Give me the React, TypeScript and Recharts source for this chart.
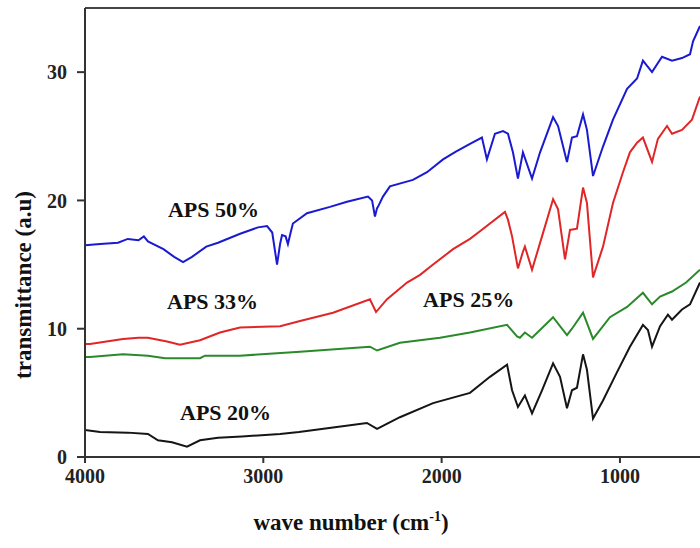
import { LineChart, Line, XAxis, YAxis, ReferenceLine, ReferenceDot } from 'recharts';

const FONT = '"Liberation Serif", "Times New Roman", serif';

// [wave number (cm-1), transmittance (a.u)]
const aps50 = [
  [4000, 16.5], [3915, 16.6], [3815, 16.7], [3760, 17.0], [3700, 16.9], [3670, 17.2],
  [3647, 16.8], [3560, 16.2], [3500, 15.6], [3450, 15.2], [3400, 15.6], [3320, 16.4],
  [3254, 16.7], [3130, 17.4], [3030, 17.9], [2979, 18.0], [2950, 17.5], [2923, 15.0],
  [2906, 16.6], [2895, 17.3], [2875, 17.2], [2862, 16.6], [2845, 17.6], [2834, 18.2],
  [2755, 19.0], [2626, 19.5], [2531, 19.9], [2413, 20.3], [2390, 20.0], [2374, 18.75],
  [2362, 19.4], [2357, 19.5], [2329, 20.3], [2290, 21.1], [2161, 21.6], [2082, 22.2],
  [1992, 23.2], [1920, 23.8], [1841, 24.4], [1774, 24.9], [1746, 23.2], [1701, 25.2],
  [1656, 25.4], [1628, 25.2], [1600, 23.75], [1572, 21.7], [1544, 23.75], [1493, 21.7],
  [1448, 23.75], [1375, 26.5], [1347, 25.8], [1297, 23.0], [1269, 24.9], [1241, 25.0],
  [1207, 26.7], [1185, 25.5], [1151, 21.9], [1095, 24.2], [1039, 26.3], [960, 28.7],
  [904, 29.5], [871, 30.9], [820, 30.0], [764, 31.2], [708, 30.9], [652, 31.1],
  [607, 31.4], [590, 32.4], [551, 33.6],
];

const aps33 = [
  [4000, 8.8], [3972, 8.8], [3787, 9.2], [3700, 9.3], [3647, 9.3], [3540, 9.0],
  [3467, 8.75], [3355, 9.1], [3243, 9.7], [3131, 10.1], [2906, 10.2], [2794, 10.6],
  [2609, 11.25], [2402, 12.3], [2368, 11.3], [2306, 12.3], [2194, 13.6], [2121, 14.2],
  [2048, 15.0], [1936, 16.2], [1841, 17.0], [1785, 17.6], [1645, 19.1], [1628, 18.5],
  [1605, 17.2], [1572, 14.7], [1544, 16.0], [1533, 16.4], [1493, 14.6], [1437, 17.2],
  [1375, 20.1], [1347, 19.3], [1308, 15.4], [1280, 17.7], [1241, 17.8], [1207, 21.0],
  [1185, 19.8], [1151, 14.0], [1095, 16.4], [1039, 19.8], [983, 22.2], [944, 23.75],
  [904, 24.5], [871, 24.9], [820, 23.0], [787, 24.8], [736, 25.8], [708, 25.2],
  [652, 25.5], [596, 26.3], [551, 28.1],
];

const aps25 = [
  [4000, 7.8], [3972, 7.8], [3787, 8.0], [3647, 7.9], [3551, 7.7], [3355, 7.7],
  [3327, 7.9], [3131, 7.9], [2794, 8.2], [2402, 8.6], [2362, 8.3], [2234, 8.9],
  [2009, 9.3], [1841, 9.7], [1633, 10.3], [1577, 9.4], [1561, 9.3], [1533, 9.7],
  [1493, 9.3], [1375, 10.9], [1297, 9.5], [1269, 10.0], [1207, 11.25], [1151, 9.2],
  [1056, 10.9], [960, 11.7], [871, 12.8], [820, 11.9], [775, 12.5], [708, 12.9],
  [629, 13.6], [551, 14.6],
];

const aps20 = [
  [4000, 2.1], [3916, 1.95], [3759, 1.9], [3647, 1.8], [3591, 1.3], [3512, 1.15],
  [3428, 0.8], [3355, 1.3], [3254, 1.5], [3120, 1.6], [2906, 1.8], [2800, 1.95],
  [2609, 2.3], [2419, 2.65], [2362, 2.2], [2234, 3.1], [2048, 4.2], [1841, 5.0],
  [1729, 6.25], [1633, 7.2], [1605, 5.2], [1572, 3.9], [1533, 4.8], [1493, 3.4],
  [1437, 5.2], [1375, 7.3], [1336, 6.25], [1297, 3.8], [1269, 5.2], [1241, 5.4],
  [1207, 8.0], [1185, 6.8], [1151, 3.0], [1095, 4.4], [1017, 6.6], [944, 8.6],
  [871, 10.3], [843, 9.9], [820, 8.6], [775, 10.2], [731, 11.1], [708, 10.7],
  [652, 11.5], [607, 11.9], [551, 13.6],
];

const xTicks = [4000, 3000, 2000, 1000];
const yTicks = [0, 10, 20, 30];

const series = [
  { name: 'APS 50%', data: aps50, color: '#1a1ad0' },
  { name: 'APS 33%', data: aps33, color: '#e02626' },
  { name: 'APS 25%', data: aps25, color: '#2a8a2a' },
  { name: 'APS 20%', data: aps20, color: '#151515' },
];

// where each curve name is written (left edge, baseline) in data units
const tags = [
  { text: 'APS 50%', w: 3535, t: 18.7 },
  { text: 'APS 33%', w: 3540, t: 11.5 },
  { text: 'APS 25%', w: 2104, t: 11.7 },
  { text: 'APS 20%', w: 3467, t: 2.9 },
];

const tickStyle = { fontFamily: FONT, fontSize: 20, fontWeight: 'bold', fill: '#222' };

export default function App() {
  return (
    <div style={{ position: 'absolute', left: 0, top: 0, background: '#fff' }}>
      <LineChart width={700} height={548} margin={{ top: 8, right: 0, bottom: 0, left: 0 }}>
        <XAxis
          type="number"
          dataKey="w"
          domain={[551, 4000]}
          reversed
          allowDataOverflow
          ticks={xTicks}
          height={91}
          stroke="#333"
          strokeWidth={2}
          tickSize={6}
          tickMargin={6}
          tick={tickStyle}
          label={(p: any) => (
            <text
              x={351}
              y={530}
              textAnchor="middle"
              style={{ fontFamily: FONT, fontSize: 23, fontWeight: 'bold' }}
              fill="#111"
            >
              wave number (cm
              <tspan dy={-9} fontSize={14}>-1</tspan>
              <tspan dy={9}>)</tspan>
            </text>
          )}
        />
        <YAxis
          type="number"
          domain={[0, 35]}
          allowDataOverflow
          ticks={yTicks}
          width={85}
          stroke="#333"
          strokeWidth={2}
          tickSize={8}
          tickMargin={10}
          tick={tickStyle}
          label={(p: any) => (
            <text
              x={23}
              y={285}
              transform="rotate(-90 23 285)"
              textAnchor="middle"
              dominantBaseline="central"
              style={{ fontFamily: FONT, fontSize: 23, fontWeight: 'bold' }}
              fill="#111"
            >
              transmittance (a.u)
            </text>
          )}
        />
        <ReferenceLine y={35} stroke="#444" strokeWidth={2} />
        {series.map((s) => (
          <Line
            key={s.name}
            data={s.data.map(([w, t]) => ({ w, t }))}
            dataKey="t"
            name={s.name}
            type="linear"
            stroke={s.color}
            strokeWidth={2}
            dot={false}
            isAnimationActive={false}
          />
        ))}
        {tags.map((g) => (
          <ReferenceDot
            key={g.text}
            x={g.w}
            y={g.t}
            r={0}
            stroke="none"
            fill="none"
            label={(p: any) => (
              <text
                x={p.viewBox.x}
                y={p.viewBox.y}
                style={{ fontFamily: FONT, fontSize: 22, fontWeight: 'bold' }}
                fill="#111"
              >
                {g.text}
              </text>
            )}
          />
        ))}
      </LineChart>
    </div>
  );
}
